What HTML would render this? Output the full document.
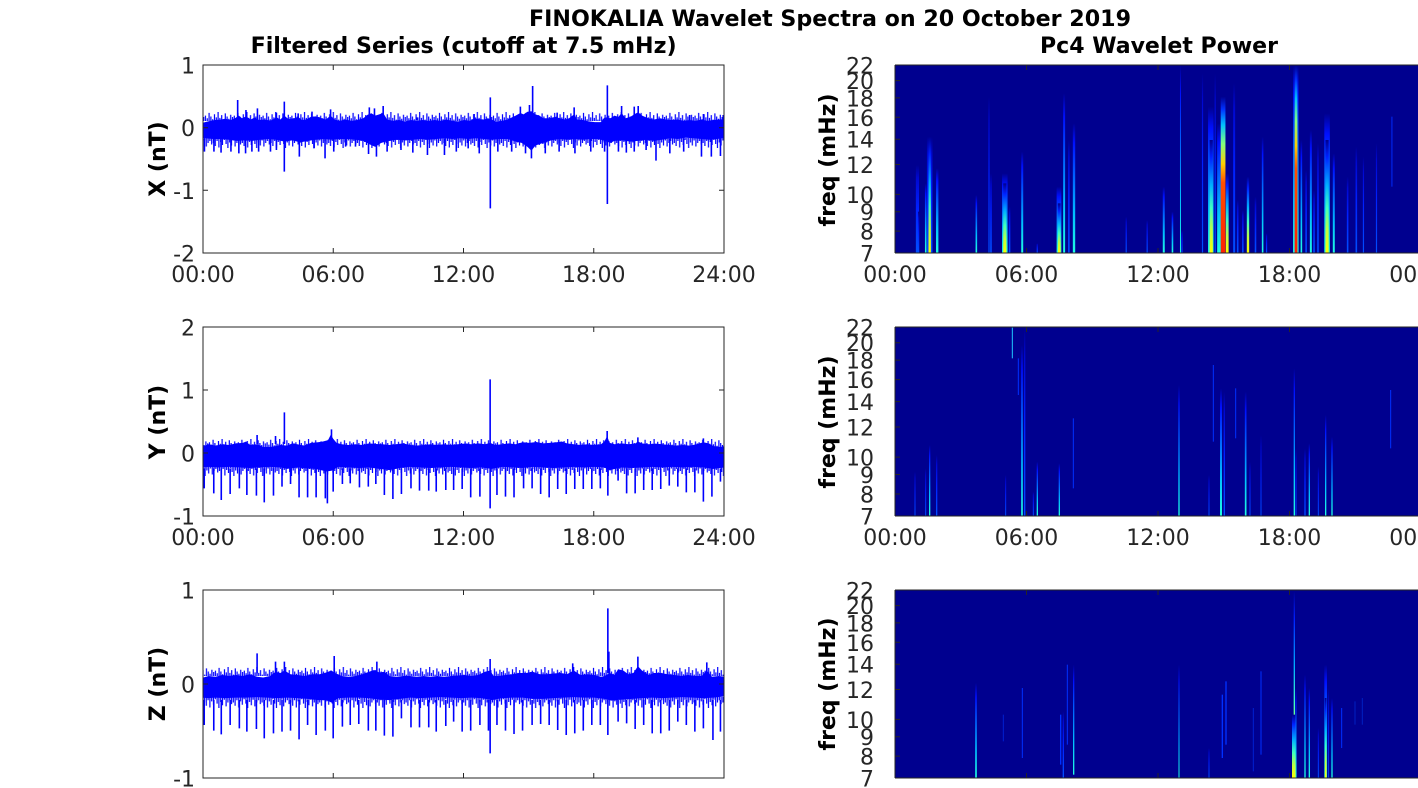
<!DOCTYPE html>
<html><head><meta charset="utf-8"><style>
html,body{margin:0;padding:0;background:#fff;}
svg{display:block;}
text{font-family:"DejaVu Sans","Liberation Sans",sans-serif;}
.tk{font-size:22px;fill:#262626;}
.tt{font-size:22px;font-weight:bold;fill:#000;}
.yl{font-size:22px;font-weight:bold;fill:#000;}
</style></head><body>
<svg width="1418" height="788" viewBox="0 0 1418 788" xmlns="http://www.w3.org/2000/svg">
<defs>
<linearGradient id="gB" x1="0" y1="1" x2="0" y2="0"><stop offset="0" stop-color="#0050ff"/><stop offset="0.5" stop-color="#0020ff"/><stop offset="0.85" stop-color="#0008d0"/><stop offset="1" stop-color="#00008f"/></linearGradient>
<linearGradient id="gC" x1="0" y1="1" x2="0" y2="0"><stop offset="0" stop-color="#20ffe0"/><stop offset="0.3" stop-color="#00c0ff"/><stop offset="0.6" stop-color="#0060ff"/><stop offset="0.85" stop-color="#0010ff"/><stop offset="1" stop-color="#00008f"/></linearGradient>
<linearGradient id="gY" x1="0" y1="1" x2="0" y2="0"><stop offset="0" stop-color="#ffff00"/><stop offset="0.2" stop-color="#c0ff40"/><stop offset="0.4" stop-color="#40ffc0"/><stop offset="0.6" stop-color="#00b0ff"/><stop offset="0.85" stop-color="#0020ff"/><stop offset="1" stop-color="#00008f"/></linearGradient>
<linearGradient id="gR" x1="0" y1="1" x2="0" y2="0"><stop offset="0" stop-color="#ff2000"/><stop offset="0.45" stop-color="#ff5000"/><stop offset="0.57" stop-color="#ffd000"/><stop offset="0.7" stop-color="#80ff80"/><stop offset="0.82" stop-color="#00c0ff"/><stop offset="0.92" stop-color="#0030ff"/><stop offset="1" stop-color="#00008f"/></linearGradient>

<pattern id="puX" patternUnits="userSpaceOnUse" width="28.8" height="10" patternTransform="translate(3,112) scale(1,0.9)"><path stroke="#0000ff" stroke-width="1.2" fill="none" d="M0.9 10V4M2.7 10V7M4.5 10V1M6.3 10V5M8.1 10V8M9.9 10V2.5M11.7 10V6M13.5 10V0M15.3 10V6.5M17.1 10V3.5M18.9 10V8.5M20.7 10V1.5M22.5 10V5M24.3 10V7.5M26.1 10V3M27.9 10V5.5"/></pattern>
<pattern id="pdX" patternUnits="userSpaceOnUse" width="28.8" height="10" patternTransform="translate(11,138)"><path stroke="#0000ff" stroke-width="1.2" fill="none" d="M0.9 0V5M2.7 0V8M4.5 0V3M6.3 0V9.5M8.1 0V4M9.9 0V7M11.7 0V2M13.5 0V6M15.3 0V10M17.1 0V4.5M18.9 0V7.5M20.7 0V2.5M22.5 0V8.5M24.3 0V5M26.1 0V3M27.9 0V6.5"/></pattern>
<pattern id="puY" patternUnits="userSpaceOnUse" width="28.8" height="10" patternTransform="translate(7,439) scale(1,0.8)"><path stroke="#0000ff" stroke-width="1.2" fill="none" d="M0.9 10V4M2.7 10V7M4.5 10V1M6.3 10V5M8.1 10V8M9.9 10V2.5M11.7 10V6M13.5 10V0M15.3 10V6.5M17.1 10V3.5M18.9 10V8.5M20.7 10V1.5M22.5 10V5M24.3 10V7.5M26.1 10V3M27.9 10V5.5"/></pattern>
<pattern id="pdY" patternUnits="userSpaceOnUse" width="28.8" height="10" patternTransform="translate(17,466)"><path stroke="#0000ff" stroke-width="1.2" fill="none" d="M0.9 0V5M2.7 0V8M4.5 0V3M6.3 0V9.5M8.1 0V4M9.9 0V7M11.7 0V2M13.5 0V6M15.3 0V10M17.1 0V4.5M18.9 0V7.5M20.7 0V2.5M22.5 0V8.5M24.3 0V5M26.1 0V3M27.9 0V6.5"/></pattern>
<pattern id="puZ" patternUnits="userSpaceOnUse" width="28.8" height="10" patternTransform="translate(13,667) scale(1,0.9)"><path stroke="#0000ff" stroke-width="1.2" fill="none" d="M0.9 10V4M2.7 10V7M4.5 10V1M6.3 10V5M8.1 10V8M9.9 10V2.5M11.7 10V6M13.5 10V0M15.3 10V6.5M17.1 10V3.5M18.9 10V8.5M20.7 10V1.5M22.5 10V5M24.3 10V7.5M26.1 10V3M27.9 10V5.5"/></pattern>
<pattern id="pdZ" patternUnits="userSpaceOnUse" width="28.8" height="10" patternTransform="translate(2,697) scale(1,1.1)"><path stroke="#0000ff" stroke-width="1.2" fill="none" d="M0.9 0V5M2.7 0V8M4.5 0V3M6.3 0V9.5M8.1 0V4M9.9 0V7M11.7 0V2M13.5 0V6M15.3 0V10M17.1 0V4.5M18.9 0V7.5M20.7 0V2.5M22.5 0V8.5M24.3 0V5M26.1 0V3M27.9 0V6.5"/></pattern>

<clipPath id="cL1"><rect x="203" y="65" width="521" height="188"/></clipPath>
<clipPath id="cL2"><rect x="203" y="327" width="521" height="189"/></clipPath>
<clipPath id="cL3"><rect x="203" y="590" width="521" height="188"/></clipPath>
<clipPath id="cR1"><rect x="895" y="65" width="526" height="188"/></clipPath>
<clipPath id="cR2"><rect x="895" y="327" width="526" height="189"/></clipPath>
<clipPath id="cR3"><rect x="895" y="590" width="526" height="188"/></clipPath>
</defs>

<!-- Titles -->
<text class="tt" x="830" y="26" text-anchor="middle" textLength="602" lengthAdjust="spacingAndGlyphs">FINOKALIA Wavelet Spectra on 20 October 2019</text>
<text class="tt" x="463.6" y="53" text-anchor="middle" textLength="426" lengthAdjust="spacingAndGlyphs">Filtered Series (cutoff at 7.5 mHz)</text>
<text class="tt" x="1159" y="53" text-anchor="middle" textLength="238" lengthAdjust="spacingAndGlyphs">Pc4 Wavelet Power</text>

<!-- ===== LEFT PANEL 1 (X) ===== -->
<g clip-path="url(#cL1)">
<rect x="203" y="112" width="521" height="9" fill="url(#puX)"/>
<rect x="203" y="138" width="521" height="10" fill="url(#pdX)"/>
<g transform="translate(140,0) scale(0.3954,0.33333)">
<g transform="translate(0,389) scale(1,0.78) translate(0,-389)">
<polygon fill="#0000ff" points="160,362 175,356 190,352 205,350 215,347 230,352 240,345 250,335 258,345 268,338 280,350 290,342 300,352 315,350 330,354 345,342 355,350 365,335 375,348 390,345 400,340 410,352 420,350 432,340 445,338 460,345 470,350 482,335 492,350 505,355 520,350 535,355 550,352 565,345 575,332 585,326 595,335 605,330 615,325 625,350 640,355 655,352 670,357 685,352 700,355 715,352 730,355 745,352 760,355 775,350 790,355 805,357 820,352 835,355 845,345 855,348 870,350 880,345 892,352 900,357 915,355 930,350 940,342 950,335 962,325 970,330 980,320 990,318 1000,330 1010,335 1020,345 1035,345 1050,340 1062,345 1075,350 1085,345 1098,330 1105,350 1120,352 1135,357 1150,360 1165,360 1175,342 1190,345 1200,335 1210,340 1218,325 1228,345 1240,340 1250,330 1260,322 1270,335 1285,345 1300,350 1315,345 1330,350 1345,352 1360,350 1375,355 1390,352 1405,355 1420,350 1435,355 1450,352 1465,350 1480,348 1480,420 1460,425 1440,428 1420,425 1400,422 1380,420 1360,425 1340,422 1320,428 1300,432 1280,428 1260,432 1240,435 1220,430 1200,432 1190,440 1180,435 1160,425 1140,425 1120,428 1100,425 1080,428 1060,425 1040,430 1020,440 1000,450 990,470 980,455 965,440 950,435 930,425 910,425 890,428 870,425 850,422 830,425 810,422 790,425 770,422 750,425 730,428 710,425 690,428 670,430 650,428 630,432 610,440 595,455 580,445 565,432 545,428 525,425 505,425 485,428 465,425 445,428 425,432 405,438 385,430 365,435 345,428 325,425 305,428 285,432 265,430 245,432 225,428 205,425 185,425 165,422 158,420"/>
</g>
<path fill="none" stroke="#0000ff" stroke-width="1.6" vector-effect="non-scaling-stroke" d="M163 415V455M187 415V455M205 415V458M230 415V455M250 415V460M267 415V460M283 415V455M300 415V455M330 415V455M345 415V450M365 415V515M403 415V470M440 415V445M468 415V475M490 415V455M520 415V440M545 415V440M578 415V462M598 415V470M625 415V455M660 415V450M690 415V458M727 415V465M770 415V465M800 415V455M830 415V445M858 415V460M886 415V625M905 415V455M940 415V455M975 415V460M990 415V475M1025 415V460M1060 415V455M1100 415V460M1140 415V455M1175 415V455M1182 415V612M1210 415V455M1230 415V458M1250 415V455M1280 415V450M1305 415V482M1340 415V460M1375 415V455M1420 415V470M1445 415V470M1468 415V468 M247 360V300M268 360V330M297 360V325M345 360V338M365 360V305M400 360V340M435 360V335M482 360V328M580 360V322M593 360V325M615 360V318M700 360V352M845 360V342M886 360V292M962 360V320M985 360V315M993 360V258M1055 360V338M1098 360V322M1182 360V256M1218 360V318M1250 360V320M1260 360V318M1390 360V345M1425 360V342M1475 360V345"/>
</g>
</g>
<rect x="203" y="65" width="521" height="188" fill="none" stroke="#262626" stroke-width="1"/>
<path stroke="#262626" stroke-width="1" fill="none" d="M203 65h5M203 127.7h5M203 190.3h5M724 65h-5M724 127.7h-5M724 190.3h-5M724 253h-5M333.25 253v-5M463.5 253v-5M593.75 253v-5M333.25 65v5M463.5 65v5M593.75 65v5"/>
<g class="tk" text-anchor="end">
<text x="195" y="73.5">1</text><text x="195" y="136.2">0</text><text x="195" y="198.8">-1</text><text x="195" y="261.5">-2</text>
</g>
<g class="tk" text-anchor="middle">
<text x="203" y="282">00:00</text><text x="333.25" y="282">06:00</text><text x="463.5" y="282">12:00</text><text x="593.75" y="282">18:00</text><text x="724" y="282">24:00</text>
</g>
<text class="yl" transform="translate(165,159) rotate(-90)" text-anchor="middle">X (nT)</text>

<!-- ===== LEFT PANEL 2 (Y) ===== -->
<g clip-path="url(#cL2)">
<rect x="203" y="439" width="521" height="8" fill="url(#puY)"/>
<rect x="203" y="466" width="521" height="10" fill="url(#pdY)"/>
<g transform="translate(195,370) scale(0.3412,0.33333)">
<g transform="translate(0,257.5) scale(1,0.82) translate(0,-257.5)">
<polygon fill="#0000ff" points="20,225 40,215 60,220 80,215 100,218 120,212 140,210 150,205 160,218 182,215 200,225 220,225 236,222 250,218 270,220 285,212 300,215 320,220 340,210 360,208 375,205 390,200 398,180 405,195 415,210 430,215 450,218 470,215 490,218 510,212 530,214 550,215 570,218 590,215 610,212 630,218 650,220 670,218 690,215 710,218 730,215 750,218 770,215 790,213 810,215 830,212 850,215 865,210 880,218 900,215 920,212 940,215 960,208 980,210 1000,207 1020,212 1040,210 1060,208 1075,205 1090,212 1110,215 1130,218 1150,215 1170,218 1190,215 1200,205 1208,185 1215,210 1230,215 1250,212 1270,215 1290,213 1298,205 1310,212 1330,215 1350,213 1370,215 1390,218 1410,220 1430,218 1450,220 1470,215 1490,208 1505,212 1520,222 1540,225 1552,222 1552,300 1520,305 1490,300 1460,298 1430,300 1400,298 1370,300 1340,298 1310,300 1280,302 1250,300 1215,310 1200,300 1170,298 1140,300 1110,298 1080,300 1050,302 1020,300 990,298 960,302 930,300 900,298 870,305 840,300 810,302 780,300 750,298 720,300 690,302 660,300 630,298 600,302 570,310 540,305 510,300 480,302 450,300 420,298 400,312 385,315 370,310 350,305 320,303 300,300 270,305 250,300 220,298 190,300 160,302 130,300 100,298 70,300 40,298 20,300"/>
</g>
<path fill="none" stroke="#0000ff" stroke-width="1.6" vector-effect="non-scaling-stroke" d="M27 295V355M55 295V370M77 295V390M103 295V372M130 295V355M152 295V375M180 295V377M203 295V397M230 295V377M255 295V350M280 295V342M305 295V382M330 295V382M355 295V382M382 295V385M388 295V400M405 295V365M432 295V342M455 295V340M482 295V352M508 295V350M530 295V342M555 295V375M580 295V387M605 295V372M633 295V355M658 295V362M685 295V362M707 295V365M735 295V360M758 295V360M783 295V357M808 295V382M835 295V380M865 295V415M885 295V375M910 295V380M935 295V382M963 295V355M988 295V355M1013 295V372M1038 295V382M1063 295V357M1088 295V372M1113 295V357M1138 295V357M1163 295V357M1188 295V355M1210 295V377M1240 295V332M1265 295V370M1290 295V370M1315 295V360M1340 295V360M1365 295V357M1390 295V347M1415 295V350M1440 295V367M1465 295V367M1490 295V395M1515 295V380M1540 295V335 M182 222V195M236 222V198M262 222V127M400 222V178M865 222V28M1208 222V183M1298 222V202M1490 222V205"/>
</g>
</g>
<rect x="203" y="327" width="521" height="189" fill="none" stroke="#262626" stroke-width="1"/>
<path stroke="#262626" stroke-width="1" fill="none" d="M203 390h5M203 453h5M724 327h-5M724 390h-5M724 453h-5M724 516h-5M333.25 516v-5M463.5 516v-5M593.75 516v-5M333.25 327v5M463.5 327v5M593.75 327v5"/>
<g class="tk" text-anchor="end">
<text x="195" y="335.5">2</text><text x="195" y="398.5">1</text><text x="195" y="461.5">0</text><text x="195" y="524.5">-1</text>
</g>
<g class="tk" text-anchor="middle">
<text x="203" y="545">00:00</text><text x="333.25" y="545">06:00</text><text x="463.5" y="545">12:00</text><text x="593.75" y="545">18:00</text><text x="724" y="545">24:00</text>
</g>
<text class="yl" transform="translate(165,422) rotate(-90)" text-anchor="middle">Y (nT)</text>

<!-- ===== LEFT PANEL 3 (Z) ===== -->
<g clip-path="url(#cL3)">
<rect x="203" y="667" width="521" height="9" fill="url(#puZ)"/>
<rect x="203" y="697" width="521" height="11" fill="url(#pdZ)"/>
<g transform="translate(195,585) scale(0.3412,0.33333)">
<g transform="translate(0,304) scale(1,0.74) translate(0,-304)">
<polygon fill="#0000ff" points="20,270 40,262 60,265 80,258 100,262 120,258 140,262 160,255 182,265 200,268 220,262 236,245 250,250 262,240 280,255 300,258 320,262 345,255 365,255 380,250 400,240 410,250 430,262 450,265 470,262 490,255 510,245 525,238 540,248 555,245 570,262 590,265 610,262 630,262 650,265 670,262 690,265 710,262 730,265 750,262 770,260 790,258 810,262 830,258 850,245 865,240 875,262 890,262 910,258 930,255 950,250 970,250 990,245 1010,255 1030,255 1050,252 1070,250 1090,255 1110,240 1130,258 1150,255 1170,258 1190,265 1200,262 1215,250 1230,258 1240,235 1255,240 1270,255 1285,250 1298,222 1310,240 1330,258 1345,250 1365,250 1385,255 1405,258 1425,262 1445,258 1465,262 1485,262 1500,240 1515,265 1535,262 1552,265 1552,345 1520,350 1490,352 1460,350 1430,348 1400,350 1370,352 1340,350 1310,352 1280,355 1250,358 1220,362 1200,355 1170,350 1140,350 1110,348 1080,350 1050,352 1020,355 990,355 960,350 930,350 900,352 870,360 840,352 810,350 780,352 750,350 720,348 690,350 660,352 630,350 600,355 570,360 540,358 510,352 480,350 450,350 420,352 400,370 385,360 360,360 330,355 300,352 270,350 240,352 210,350 180,348 150,350 120,350 90,352 60,350 40,352 20,350"/>
</g>
<path fill="none" stroke="#0000ff" stroke-width="1.6" vector-effect="non-scaling-stroke" d="M27 345V420M55 345V437M77 345V448M103 345V420M130 345V430M152 345V440M180 345V432M203 345V460M230 345V445M255 345V440M280 345V437M305 345V463M330 345V420M355 345V450M382 345V437M405 345V460M432 345V425M455 345V420M480 345V417M508 345V437M530 345V437M555 345V452M580 345V455M605 345V400M633 345V427M658 345V427M685 345V427M707 345V440M735 345V423M758 345V410M783 345V440M808 345V437M835 345V420M860 345V437M865 345V505M885 345V420M910 345V437M935 345V447M960 345V437M988 345V420M1013 345V417M1038 345V420M1063 345V435M1088 345V450M1113 345V445M1138 345V437M1163 345V420M1188 345V420M1210 345V450M1240 345V410M1265 345V415M1290 345V432M1315 345V420M1340 345V445M1365 345V445M1390 345V437M1415 345V410M1440 345V420M1465 345V440M1490 345V430M1518 345V465M1540 345V440 M182 265V205M236 265V230M262 265V230M408 265V213M533 265V230M865 265V222M1107 265V235M1210 265V70M1213 265V200M1298 265V215M1500 265V232"/>
</g>
</g>
<rect x="203" y="590" width="521" height="188" fill="none" stroke="#262626" stroke-width="1"/>
<path stroke="#262626" stroke-width="1" fill="none" d="M203 684h5M724 590h-5M724 684h-5M724 778h-5M333.25 778v-5M463.5 778v-5M593.75 778v-5M333.25 590v5M463.5 590v5M593.75 590v5"/>
<g class="tk" text-anchor="end">
<text x="195" y="598.5">1</text><text x="195" y="692.5">0</text><text x="195" y="786.5">-1</text>
</g>
<text class="yl" transform="translate(165,684) rotate(-90)" text-anchor="middle">Z (nT)</text>

<!-- ===== RIGHT PANEL 1 ===== -->
<g clip-path="url(#cR1)">
<rect x="895" y="65" width="526" height="188" fill="#00008f"/>
<g transform="translate(800,30) scale(0.3954,0.33333)">
<rect x="293" y="405" width="8" height="264" fill="url(#gB)"/>
<rect x="298.5" y="545" width="3" height="124" fill="url(#gB)"/>
<rect x="316" y="460" width="4" height="209" fill="url(#gC)"/>
<rect x="321" y="320" width="14" height="349" fill="url(#gB)"/>
<rect x="325" y="320" width="6" height="349" fill="url(#gY)"/>
<rect x="344" y="415" width="6" height="254" fill="url(#gC)"/>
<rect x="444" y="495" width="4" height="174" fill="url(#gC)"/>
<rect x="476.5" y="200" width="3" height="469" fill="url(#gB)"/>
<rect x="481" y="430" width="4" height="239" fill="url(#gB)"/>
<rect x="511" y="430" width="14" height="239" fill="url(#gC)"/>
<rect x="514" y="460" width="8" height="209" fill="url(#gY)"/>
<rect x="528" y="530" width="4" height="139" fill="url(#gB)"/>
<rect x="559.5" y="365" width="5" height="304" fill="url(#gC)"/>
<rect x="598.5" y="640" width="3" height="29" fill="url(#gB)"/>
<rect x="649" y="470" width="12" height="199" fill="url(#gC)"/>
<rect x="652" y="520" width="7" height="149" fill="url(#gY)"/>
<rect x="665.5" y="190" width="5" height="479" fill="url(#gC)"/>
<rect x="678" y="330" width="4" height="339" fill="url(#gB)"/>
<rect x="690" y="280" width="6" height="389" fill="url(#gC)"/>
<rect x="823.5" y="560" width="3" height="109" fill="url(#gB)"/>
<rect x="876.5" y="570" width="3" height="99" fill="url(#gB)"/>
<rect x="917.5" y="470" width="5" height="199" fill="url(#gC)"/>
<rect x="940" y="545" width="4" height="124" fill="url(#gC)"/>
<rect x="961" y="105" width="2.5" height="564" fill="url(#gC)"/>
<rect x="964.5" y="600" width="3" height="69" fill="url(#gB)"/>
<rect x="1016.5" y="130" width="3" height="539" fill="url(#gB)"/>
<rect x="1032" y="230" width="14" height="439" fill="url(#gC)"/>
<rect x="1036" y="330" width="8" height="339" fill="url(#gY)"/>
<rect x="1048.5" y="130" width="3" height="539" fill="url(#gB)"/>
<rect x="1055" y="280" width="14" height="389" fill="url(#gC)"/>
<rect x="1064" y="200" width="12" height="469" fill="url(#gR)"/>
<rect x="1077" y="430" width="7" height="239" fill="url(#gY)"/>
<rect x="1095.5" y="160" width="5" height="509" fill="url(#gB)"/>
<rect x="1105" y="510" width="4" height="159" fill="url(#gB)"/>
<rect x="1118" y="540" width="4" height="129" fill="url(#gB)"/>
<rect x="1130" y="440" width="6" height="229" fill="url(#gY)"/>
<rect x="1150" y="500" width="4" height="169" fill="url(#gB)"/>
<rect x="1168" y="320" width="4" height="349" fill="url(#gC)"/>
<rect x="1178.5" y="610" width="3" height="59" fill="url(#gB)"/>
<rect x="1247" y="105" width="14" height="564" fill="url(#gC)"/>
<rect x="1251" y="105" width="7" height="564" fill="url(#gR)"/>
<rect x="1266" y="330" width="4" height="339" fill="url(#gC)"/>
<rect x="1278" y="420" width="4" height="249" fill="url(#gB)"/>
<rect x="1289.5" y="300" width="5" height="369" fill="url(#gC)"/>
<rect x="1298" y="480" width="4" height="189" fill="url(#gB)"/>
<rect x="1308" y="340" width="4" height="329" fill="url(#gB)"/>
<rect x="1326" y="250" width="14" height="419" fill="url(#gC)"/>
<rect x="1329" y="330" width="8" height="339" fill="url(#gY)"/>
<rect x="1347.5" y="370" width="5" height="299" fill="url(#gC)"/>
<rect x="1383" y="440" width="4" height="229" fill="url(#gB)"/>
<rect x="1405" y="350" width="4" height="319" fill="url(#gB)"/>
<rect x="1423.5" y="380" width="3" height="289" fill="url(#gB)"/>
<rect x="1456.5" y="340" width="3" height="329" fill="url(#gB)"/>
<rect x="1495.5" y="260" width="3" height="210" fill="#0024e8"/>
</g>
</g>
<path stroke="#262626" stroke-width="1" fill="none" d="M895 253H1418M895 65H1418M895 65V253"/>
<path stroke="#262626" stroke-width="1" fill="none" d="M895 231.1h5M895 211.7h5M895 194.4h5M895 164.5h5M895 139.2h5M895 117.3h5M895 97.9h5M895 80.6h5M1026.5 253v-5M1158 253v-5M1289.5 253v-5M1026.5 65v5M1158 65v5M1289.5 65v5"/>
<g class="tk" text-anchor="end">
<text x="874" y="261.5">7</text><text x="874" y="239.6">8</text><text x="874" y="220.2">9</text><text x="874" y="202.9">10</text><text x="874" y="173">12</text><text x="874" y="147.7">14</text><text x="874" y="125.8">16</text><text x="874" y="106.4">18</text><text x="874" y="89.1">20</text><text x="874" y="73.5">22</text>
</g>
<g class="tk" text-anchor="middle">
<text x="895" y="282">00:00</text><text x="1026.5" y="282">06:00</text><text x="1158" y="282">12:00</text><text x="1289.5" y="282">18:00</text><text x="1421" y="282">00:00</text>
</g>
<text class="yl" transform="translate(835,160) rotate(-90)" text-anchor="middle">freq (mHz)</text>

<!-- ===== RIGHT PANEL 2 ===== -->
<g clip-path="url(#cR2)">
<rect x="895" y="327" width="526" height="189" fill="#00008f"/>
<g transform="translate(895,325) scale(0.33333)">
<rect x="58.5" y="440" width="3" height="133" fill="url(#gB)"/>
<rect x="90.5" y="430" width="3" height="143" fill="url(#gB)"/>
<rect x="102" y="360" width="4" height="213" fill="url(#gC)"/>
<rect x="123" y="390" width="4" height="183" fill="url(#gB)"/>
<rect x="330.5" y="450" width="3" height="123" fill="url(#gB)"/>
<rect x="350.5" y="8" width="3" height="92" fill="#20c8ff"/>
<rect x="368.5" y="100" width="3" height="110" fill="#0030ff"/>
<rect x="378.5" y="60" width="5" height="513" fill="url(#gC)"/>
<rect x="387" y="10" width="4" height="563" fill="url(#gB)"/>
<rect x="413.5" y="500" width="3" height="73" fill="url(#gB)"/>
<rect x="425" y="410" width="4" height="163" fill="url(#gC)"/>
<rect x="491" y="415" width="4" height="158" fill="url(#gC)"/>
<rect x="533.5" y="280" width="3" height="210" fill="#0030ff"/>
<rect x="850" y="180" width="4" height="393" fill="url(#gC)"/>
<rect x="940.5" y="450" width="3" height="123" fill="url(#gB)"/>
<rect x="953.5" y="120" width="3" height="230" fill="#0030ff"/>
<rect x="975" y="190" width="6" height="383" fill="url(#gC)"/>
<rect x="986" y="200" width="4" height="373" fill="url(#gB)"/>
<rect x="1020.5" y="190" width="3" height="150" fill="#0030ff"/>
<rect x="1049.5" y="200" width="5" height="373" fill="url(#gC)"/>
<rect x="1063.5" y="410" width="3" height="163" fill="url(#gB)"/>
<rect x="1096.5" y="330" width="3" height="243" fill="url(#gB)"/>
<rect x="1196" y="130" width="4" height="443" fill="url(#gC)"/>
<rect x="1201.5" y="370" width="3" height="203" fill="url(#gB)"/>
<rect x="1228" y="370" width="4" height="203" fill="url(#gB)"/>
<rect x="1241" y="355" width="4" height="218" fill="url(#gC)"/>
<rect x="1268.5" y="425" width="3" height="148" fill="url(#gB)"/>
<rect x="1290" y="270" width="4" height="303" fill="url(#gC)"/>
<rect x="1309" y="335" width="4" height="238" fill="url(#gC)"/>
<rect x="1485.5" y="195" width="3" height="175" fill="#0030ff"/>
</g>
</g>
<path stroke="#262626" stroke-width="1" fill="none" d="M895 516H1418M895 327H1418M895 327V516"/>
<path stroke="#262626" stroke-width="1" fill="none" d="M895 494h5M895 474.5h5M895 457.1h5M895 427h5M895 401.6h5M895 379.6h5M895 360.1h5M895 342.7h5M1026.5 516v-5M1158 516v-5M1289.5 516v-5M1026.5 327v5M1158 327v5M1289.5 327v5"/>
<g class="tk" text-anchor="end">
<text x="874" y="524.5">7</text><text x="874" y="502.5">8</text><text x="874" y="483">9</text><text x="874" y="465.6">10</text><text x="874" y="435.5">12</text><text x="874" y="410.1">14</text><text x="874" y="388.1">16</text><text x="874" y="368.6">18</text><text x="874" y="351.2">20</text><text x="874" y="335.5">22</text>
</g>
<g class="tk" text-anchor="middle">
<text x="895" y="545">00:00</text><text x="1026.5" y="545">06:00</text><text x="1158" y="545">12:00</text><text x="1289.5" y="545">18:00</text><text x="1421" y="545">00:00</text>
</g>
<text class="yl" transform="translate(835,422) rotate(-90)" text-anchor="middle">freq (mHz)</text>

<!-- ===== RIGHT PANEL 3 ===== -->
<g clip-path="url(#cR3)">
<rect x="895" y="590" width="526" height="188" fill="#00008f"/>
<g transform="translate(895,588) scale(0.33333)">
<rect x="240.5" y="285" width="5" height="285" fill="url(#gC)"/>
<rect x="323.5" y="380" width="3" height="80" fill="#0020d0"/>
<rect x="380.5" y="300" width="3" height="210" fill="#0030ff"/>
<rect x="495" y="380" width="4" height="150" fill="#0030ff"/>
<rect x="503" y="370" width="4" height="200" fill="url(#gB)"/>
<rect x="515.5" y="230" width="3" height="240" fill="#0030ff"/>
<rect x="534" y="230" width="4" height="330" fill="url(#gC)"/>
<rect x="850.5" y="230" width="3" height="340" fill="url(#gC)"/>
<rect x="940.5" y="480" width="3" height="90" fill="url(#gB)"/>
<rect x="980" y="320" width="4" height="190" fill="#0030ff"/>
<rect x="991" y="280" width="4" height="190" fill="#0030ff"/>
<rect x="1073.5" y="360" width="3" height="190" fill="#0020d0"/>
<rect x="1096.5" y="250" width="3" height="250" fill="#0030ff"/>
<rect x="1196" y="10" width="4" height="560" fill="url(#gY)"/>
<rect x="1191" y="380" width="13" height="190" fill="url(#gY)"/>
<rect x="1201.5" y="300" width="3" height="270" fill="url(#gC)"/>
<rect x="1228" y="260" width="4" height="310" fill="url(#gC)"/>
<rect x="1241" y="300" width="4" height="270" fill="url(#gC)"/>
<rect x="1268.5" y="420" width="3" height="150" fill="url(#gB)"/>
<rect x="1288" y="230" width="8" height="340" fill="url(#gC)"/>
<rect x="1289.5" y="330" width="5" height="240" fill="url(#gY)"/>
<rect x="1298.5" y="300" width="3" height="270" fill="url(#gB)"/>
<rect x="1309" y="330" width="4" height="240" fill="url(#gC)"/>
<rect x="1338.5" y="360" width="3" height="120" fill="#0030ff"/>
<rect x="1378.5" y="340" width="3" height="70" fill="#0020c0"/>
<rect x="1400.5" y="330" width="3" height="80" fill="#0020c0"/>
</g>
</g>
<path stroke="#262626" stroke-width="1" fill="none" d="M895 778H1418M895 590H1418M895 590V778"/>
<path stroke="#262626" stroke-width="1" fill="none" d="M895 756.1h5M895 736.7h5M895 719.4h5M895 689.5h5M895 664.2h5M895 642.3h5M895 622.9h5M895 605.6h5M1026.5 778v-5M1158 778v-5M1289.5 778v-5M1026.5 590v5M1158 590v5M1289.5 590v5"/>
<g class="tk" text-anchor="end">
<text x="874" y="786.5">7</text><text x="874" y="764.6">8</text><text x="874" y="745.2">9</text><text x="874" y="727.9">10</text><text x="874" y="698">12</text><text x="874" y="672.7">14</text><text x="874" y="650.8">16</text><text x="874" y="631.4">18</text><text x="874" y="614.1">20</text><text x="874" y="598.5">22</text>
</g>
<text class="yl" transform="translate(835,684) rotate(-90)" text-anchor="middle">freq (mHz)</text>
</svg>
</body></html>
